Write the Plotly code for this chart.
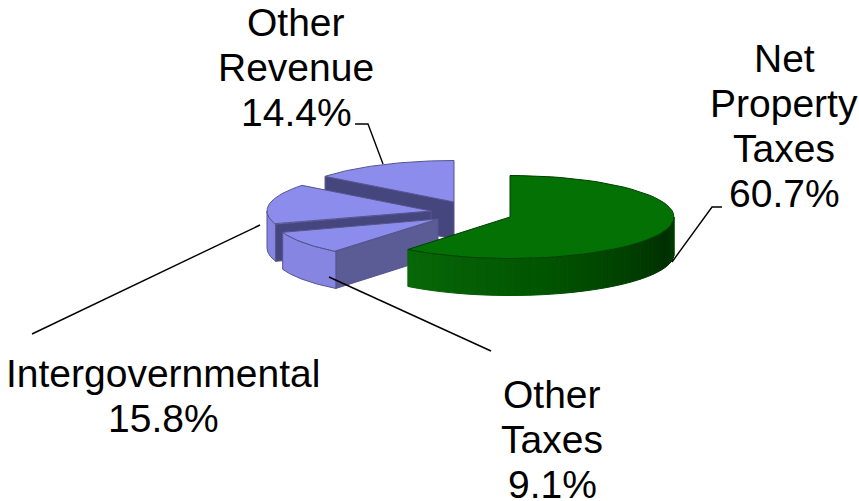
import math
import plotly.graph_objects as go

# Data
categories = ["Net Property Taxes", "Other Taxes", "Intergovernmental", "Other Revenue"]
values = [60.7, 9.1, 15.8, 14.4]

# Layout of the exploded pseudo-3D pie (pixel space of the axes)
centers = {
    "Other Revenue": (454, 202),
    "Intergovernmental": (431, 211),
    "Other Taxes": (438, 219),
    "Net Property Taxes": (510, 217),
}
RX, RY, DEPTH = 164, 41.5, 37
TOP_BLUE, EDGE_BLUE = "#8c8ced", "#55558f"
WALL_BLUE = "#8686e2"
CUT_DARK, CUT_MID = "#46467e", "#5b5b95"
TOP_GREEN, EDGE_GREEN = "#037103", "#023f02"
GREEN_STOPS = [(0.0, (8, 104, 8)), (0.4, (0, 84, 0)), (0.85, (0, 48, 0)), (1.0, (0, 62, 0))]

fig = go.Figure()


def pt(name, deg, drop=0.0):
    """deg is clockwise from 12 o'clock."""
    cx, cy = centers[name]
    a = math.radians(deg)
    return cx + RX * math.sin(a), cy - RY * math.cos(a) + drop


def poly(points, fill, line=None, width=1):
    xs = [p[0] for p in points] + [points[0][0]]
    ys = [p[1] for p in points] + [points[0][1]]
    fig.add_trace(go.Scatter(x=xs, y=ys, mode="lines", fill="toself", fillcolor=fill,
                             line=dict(color=line or fill, width=width),
                             hoverinfo="skip", showlegend=False))


def arc(name, a0, a1, drop=0.0, n=60):
    return [pt(name, a0 + (a1 - a0) * i / n, drop) for i in range(n + 1)]


def wall(name, a0, a1):
    return arc(name, a0, a1) + arc(name, a1, a0, DEPTH)


def cut(name, deg):
    c = centers[name]
    e = pt(name, deg)
    return [c, e, (e[0], e[1] + DEPTH), (c[0], c[1] + DEPTH)]


def top(name, a0, a1):
    return [centers[name]] + arc(name, a0, a1)


def lerp_stops(t):
    for (t0, c0), (t1, c1) in zip(GREEN_STOPS, GREEN_STOPS[1:]):
        if t <= t1:
            f = (t - t0) / (t1 - t0)
            return "rgb(%d,%d,%d)" % tuple(round(c0[i] + (c1[i] - c0[i]) * f) for i in range(3))
    return "rgb(0,62,0)"


# angular spans: green runs clockwise from 12 o'clock, the blues follow to 360
spans = {}
start = 0.0
for name, v in zip(categories, values):
    spans[name] = (start, start + v * 3.6)
    start += v * 3.6

# Other Revenue (back)
a0, a1 = spans["Other Revenue"]
poly(cut("Other Revenue", a0), CUT_DARK, EDGE_BLUE)
poly(top("Other Revenue", a0, a1), TOP_BLUE, EDGE_BLUE)

# Intergovernmental
a0, a1 = spans["Intergovernmental"]
poly(wall("Intergovernmental", a0, 270), WALL_BLUE, EDGE_BLUE)
poly(cut("Intergovernmental", a0), CUT_DARK, EDGE_BLUE)
poly(top("Intergovernmental", a0, a1), TOP_BLUE, EDGE_BLUE)

# Other Taxes
a0, a1 = spans["Other Taxes"]
poly(cut("Other Taxes", a0), CUT_MID, EDGE_BLUE)
poly(wall("Other Taxes", a0, a1), WALL_BLUE, EDGE_BLUE)
poly(top("Other Taxes", a0, a1), TOP_BLUE, EDGE_BLUE)

# Net Property Taxes (front, gradient wall split into strips)
a0, a1 = spans["Net Property Taxes"]
N = 48
for i in range(N):
    s0 = a1 + (90 - a1) * i / N
    s1 = a1 + (90 - a1) * (i + 1) / N
    poly(arc("Net Property Taxes", s0, s1, 0, 3) + arc("Net Property Taxes", s1, s0, DEPTH, 3),
         lerp_stops((i + 0.5) / N))
poly(top("Net Property Taxes", a0, a1), TOP_GREEN, EDGE_GREEN)

# Leader lines
leaders = [
    ([355, 368, 383], [124, 124, 164]),
    ([722, 712, 672], [207, 207, 262]),
    ([32, 260], [334, 225]),
    ([329, 491], [277, 351]),
]
for xs, ys in leaders:
    fig.add_trace(go.Scatter(x=xs, y=ys, mode="lines", line=dict(color="black", width=1.4),
                             hoverinfo="skip", showlegend=False))

# One annotation per line so the line spacing can be tighter than the default
labels = [
    (["Net", "Property", "Taxes", "60.7%"], 784, 58),
    (["Other", "Revenue", "14.4%"], 296, 22),
    (["Intergovernmental", "15.8%"], 163, 373),
    (["Other", "Taxes", "9.1%"], 552, 394),
]
LINE_STEP = 45.3
for lines, x, y in labels:
    for i, text in enumerate(lines):
        fig.add_annotation(x=x, y=y + i * LINE_STEP, text=text, showarrow=False,
                           xanchor="center", yanchor="middle", align="center",
                           font=dict(family="Liberation Sans", size=39, color="black"))

fig.update_layout(
    width=859, height=501, margin=dict(l=0, r=0, t=0, b=0),
    paper_bgcolor="white", plot_bgcolor="white", showlegend=False,
    xaxis=dict(range=[0, 859], visible=False, fixedrange=True),
    yaxis=dict(range=[501, 0], visible=False, fixedrange=True),
)
fig.write_html("out.html", config={"displayModeBar": False},
               post_script="document.body.style.margin='0';")
